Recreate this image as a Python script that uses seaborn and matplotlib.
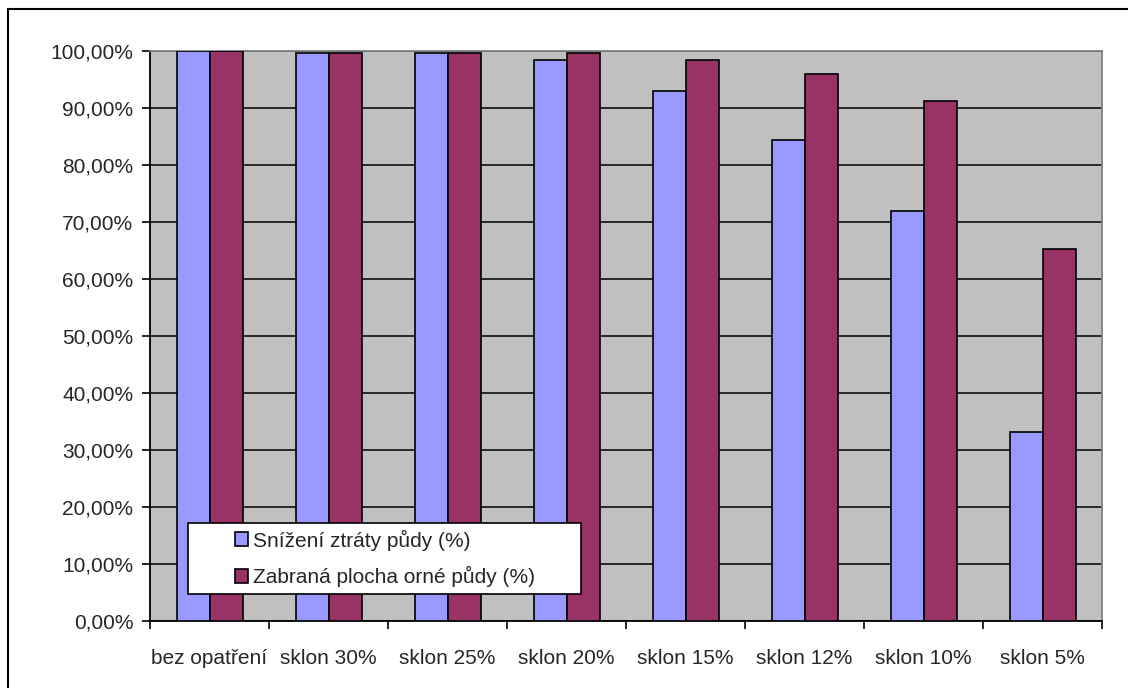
import matplotlib
matplotlib.use('Agg')
import matplotlib.pyplot as plt
import pandas as pd
import seaborn as sns
from matplotlib.patches import Rectangle
from matplotlib.ticker import FuncFormatter, MultipleLocator

categories = ['bez opatření', 'sklon 30%', 'sklon 25%', 'sklon 20%',
              'sklon 15%', 'sklon 12%', 'sklon 10%', 'sklon 5%']
snizeni = [100.0, 99.7, 99.7, 98.5, 93.0, 84.4, 71.9, 33.1]
zabrana = [100.0, 99.7, 99.7, 99.7, 98.5, 96.0, 91.3, 65.3]
series_names = ['Snížení ztráty půdy (%)', 'Zabraná plocha orné půdy (%)']
colors = ['#9999FF', '#993366']

# long format for seaborn
df = pd.DataFrame({
    'kategorie': categories * 2,
    'hodnota': snizeni + zabrana,
    'serie': [series_names[0]] * len(categories) + [series_names[1]] * len(categories),
})

sns.set_style('white')
plt.rcParams['font.family'] = ['Liberation Sans', 'DejaVu Sans']
fs = 15

fig = plt.figure(figsize=(11.28, 6.88), dpi=100)
ax = fig.add_axes([0.133, 0.0974, 0.844, 0.8285])

sns.barplot(data=df, x='kategorie', y='hodnota', hue='serie', palette=colors,
            width=0.555, gap=0, edgecolor='black', linewidth=1.2,
            saturation=1, ax=ax, zorder=3)

ax.set_facecolor('#C0C0C0')
ax.set_ylim(0, 100)
ax.set_xlim(-0.5, len(categories) - 0.5)
ax.yaxis.set_major_locator(MultipleLocator(10))
ax.yaxis.set_major_formatter(FuncFormatter(lambda v, p: f'{v:.2f}'.replace('.', ',') + '%'))
ax.grid(axis='y', color='black', linewidth=1.1, zorder=1)
ax.set_axisbelow(True)

# x ticks at category borders, labels centered
ax.set_xticks([i - 0.5 for i in range(len(categories) + 1)])
ax.set_xticklabels([])
ax.set_xticks(range(len(categories)), minor=True)
ax.set_xticklabels(categories, minor=True)
ax.tick_params(axis='x', which='major', direction='out', length=6, width=1.2, color='black', bottom=True)
ax.tick_params(axis='x', which='minor', length=0, pad=20, labelsize=fs)
ax.tick_params(axis='y', direction='out', length=6, width=1.2, color='black', left=True, labelsize=fs, pad=6)

ax.set_xlabel('')
ax.set_ylabel('')

for side in ['left', 'bottom']:
    ax.spines[side].set_color('black')
    ax.spines[side].set_linewidth(1.3)
for side in ['top', 'right']:
    ax.spines[side].set_color('#808080')
    ax.spines[side].set_linewidth(1.3)
    ax.spines[side].set_visible(True)

# legend box: white rectangle with black frame, legend centred inside
ax.add_patch(Rectangle((0.040, 0.047), 0.413, 0.125, transform=ax.transAxes,
                       facecolor='white', edgecolor='black', linewidth=1.2, zorder=4))
leg = ax.legend(loc='center', bbox_to_anchor=(0.2465, 0.1095), frameon=False, fontsize=fs,
                handlelength=0.65, handleheight=0.65, handletextpad=0.2,
                borderpad=0, labelspacing=0.75, borderaxespad=0)
leg.set_zorder(5)

# outer chart border (right and bottom edges are cut off in the original)
fig.patches.append(Rectangle((8 / 1128, -0.05), 1.1, 679 / 688 + 0.05, transform=fig.transFigure,
                             fill=False, edgecolor='black', linewidth=1.5, clip_on=False))

fig.savefig('out.png', dpi=100)
